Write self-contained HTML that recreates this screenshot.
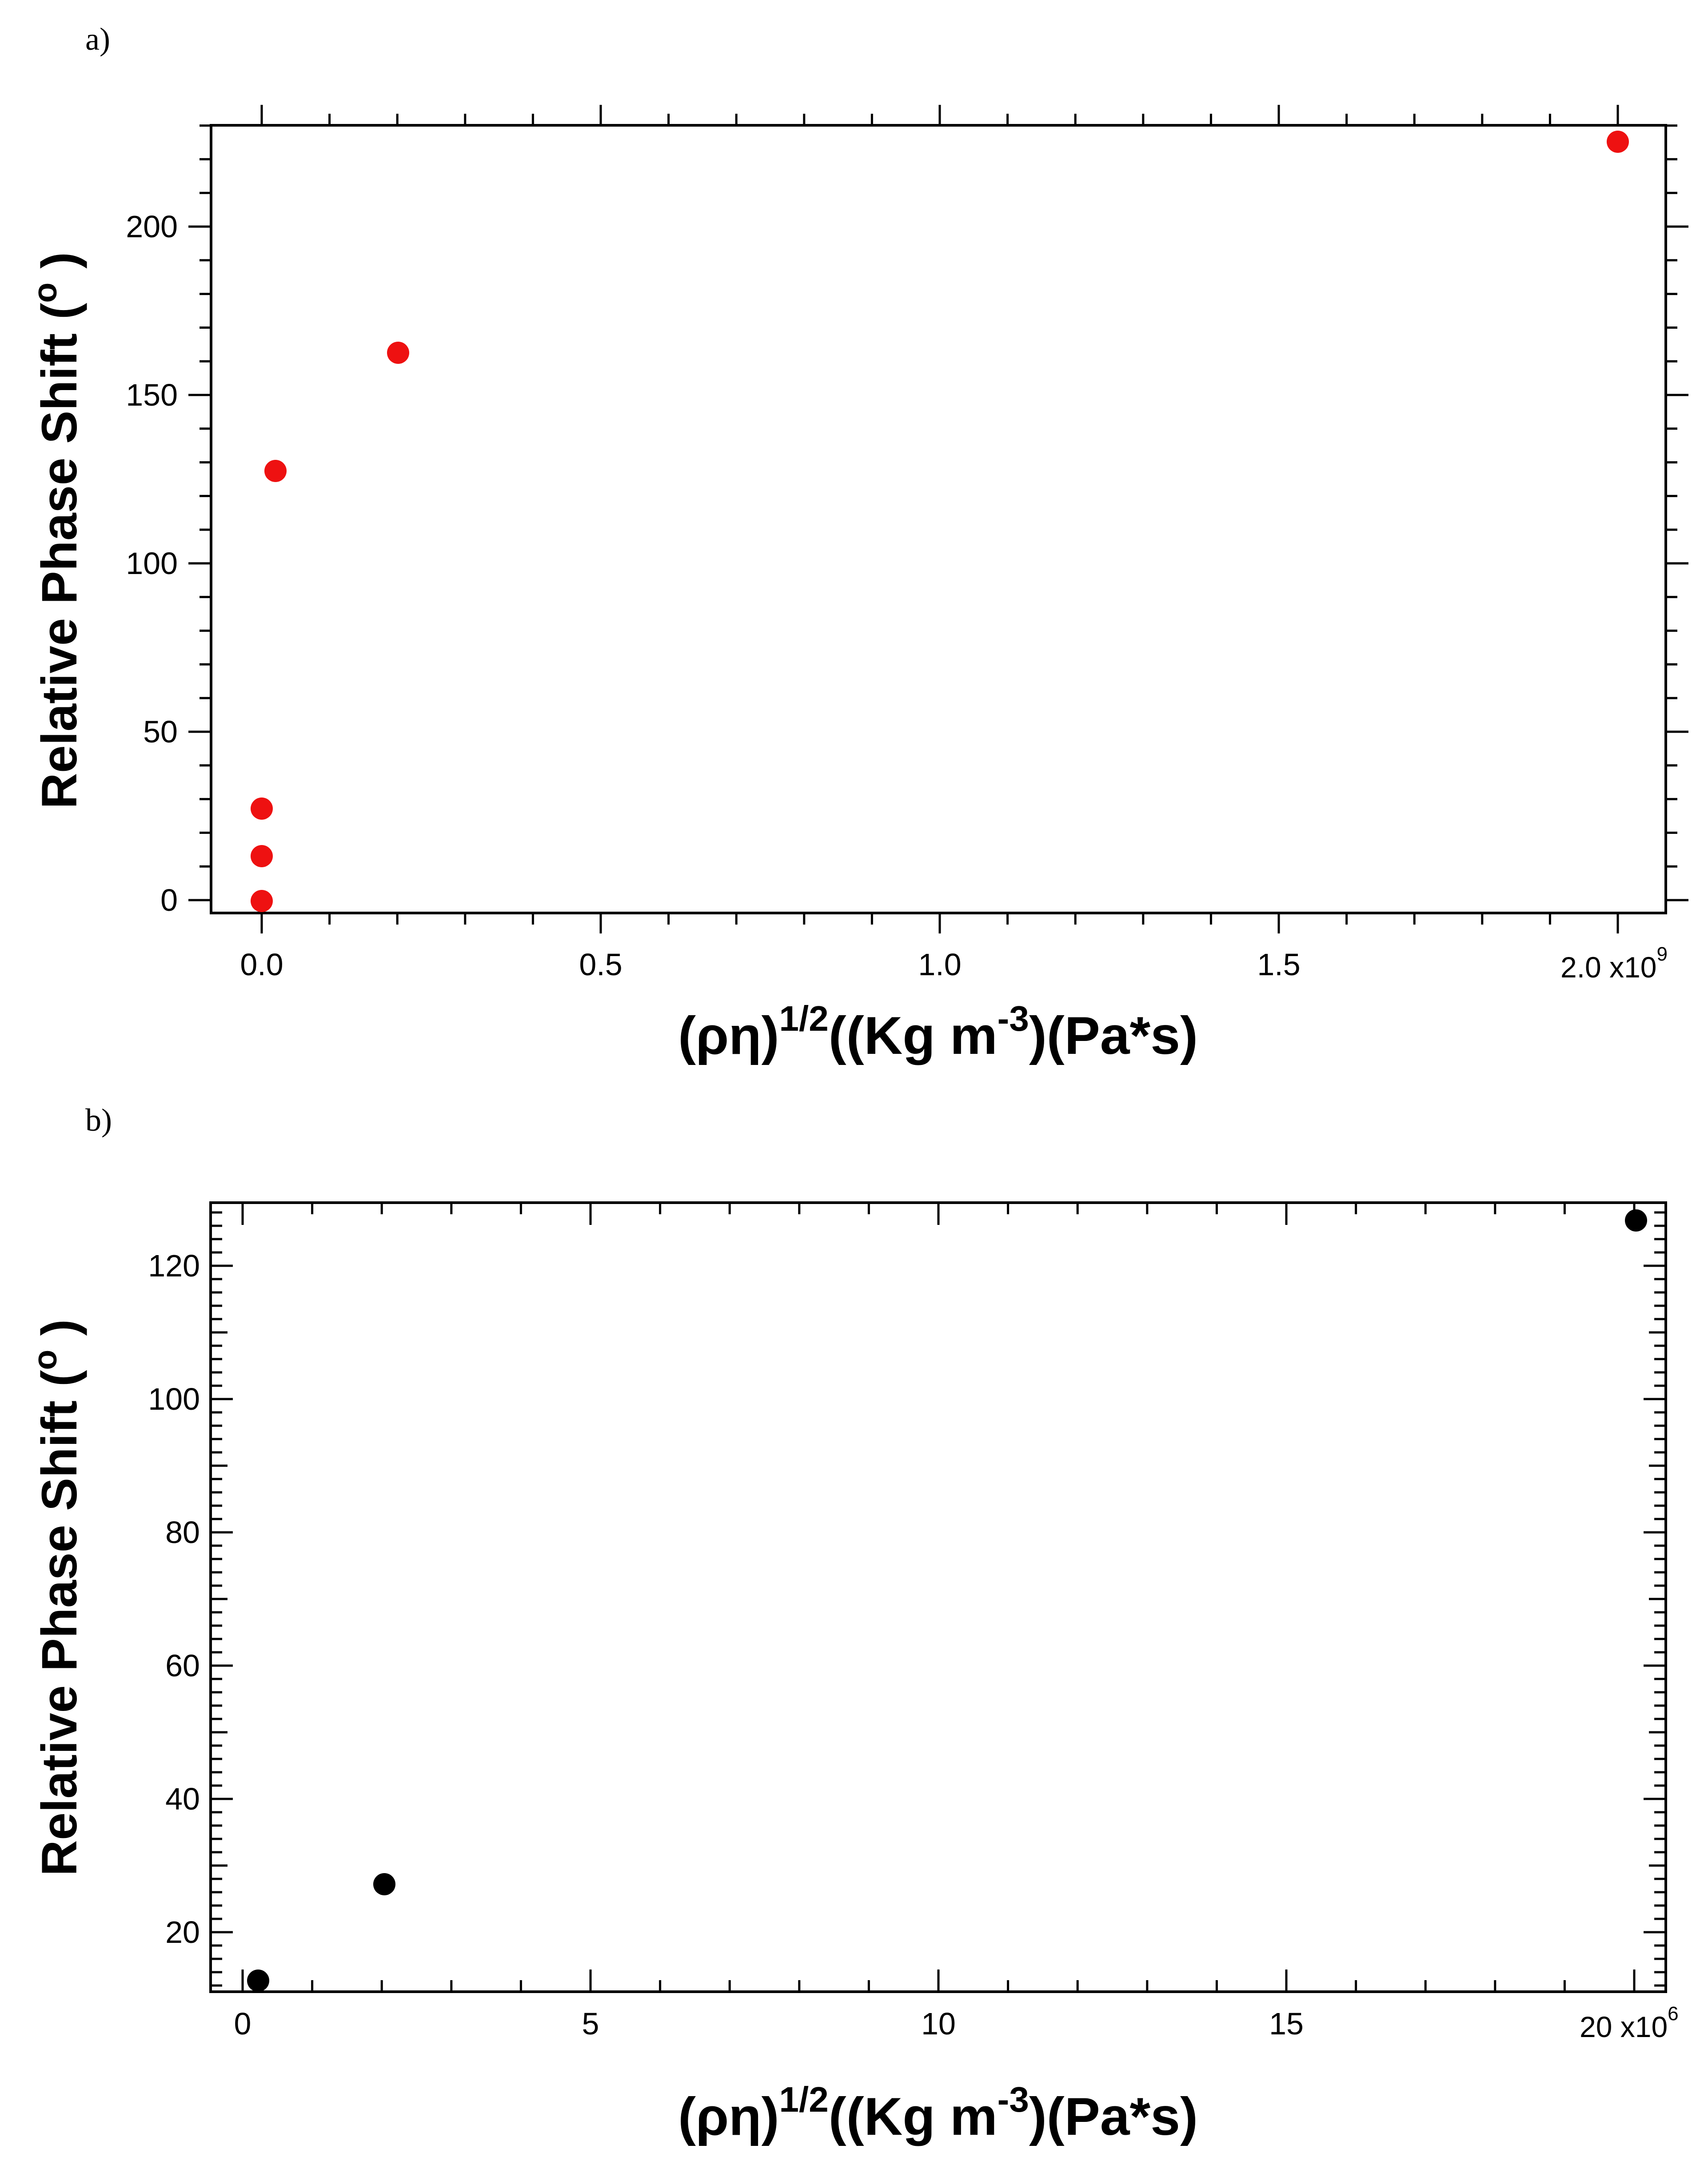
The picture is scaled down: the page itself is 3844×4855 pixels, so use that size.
<!DOCTYPE html>
<html><head><meta charset="utf-8"><style>
html,body{margin:0;padding:0;background:#fff;}
svg{display:block;}
text{font-family:"Liberation Sans",Arial,sans-serif;}
</style></head><body>
<svg id="s" width="3844" height="4855" viewBox="0 0 3844 4855" xmlns="http://www.w3.org/2000/svg">
<rect width="3844" height="4855" fill="#fff"/>
<text x="192" y="112" style="font-family:'Liberation Serif',serif" font-size="72">a)</text>
<text x="192" y="2545" style="font-family:'Liberation Serif',serif" font-size="72">b)</text>

<g id="ticks" stroke="#000" stroke-width="5" fill="none"></g>
<rect x="475" y="282" width="3274" height="1773" fill="none" stroke="#000" stroke-width="6"/>
<rect x="474" y="2707" width="3275" height="1776" fill="none" stroke="#000" stroke-width="6"/>

<g font-size="70" text-anchor="end">
<text x="400" y="534">200</text>
<text x="400" y="913">150</text>
<text x="400" y="1292">100</text>
<text x="400" y="1671">50</text>
<text x="400" y="2050">0</text>
</g>
<g font-size="70" text-anchor="middle">
<text x="589" y="2195">0.0</text>
<text x="1352" y="2195">0.5</text>
<text x="2115" y="2195">1.0</text>
<text x="2878" y="2195">1.5</text>
</g>
<text x="3512" y="2200" font-size="66">2.0 x10<tspan dy="-38" font-size="44">9</tspan></text>

<g font-size="70" text-anchor="end">
<text x="450" y="4373">20</text>
<text x="450" y="4073">40</text>
<text x="450" y="3773">60</text>
<text x="450" y="3473">80</text>
<text x="450" y="3173">100</text>
<text x="450" y="2873">120</text>
</g>
<g font-size="70" text-anchor="middle">
<text x="546" y="4579">0</text>
<text x="1329" y="4579">5</text>
<text x="2112" y="4579">10</text>
<text x="2895" y="4579">15</text>
</g>
<text x="3555" y="4585" font-size="66">20 x10<tspan dy="-38" font-size="44">6</tspan></text>

<text transform="translate(172,1194) rotate(-90)" text-anchor="middle" font-size="112" font-weight="bold">Relative Phase Shift (<tspan dy="-45" font-size="75">o</tspan><tspan dy="45"> )</tspan></text>
<text transform="translate(172,3596) rotate(-90)" text-anchor="middle" font-size="112" font-weight="bold">Relative Phase Shift (<tspan dy="-45" font-size="75">o</tspan><tspan dy="45"> )</tspan></text>
<text x="2111" y="2372" text-anchor="middle" font-size="120" font-weight="bold">(ρη)<tspan dy="-52" font-size="80">1/2</tspan><tspan dy="52">((Kg m</tspan><tspan dy="-52" font-size="80">-3</tspan><tspan dy="52">)(Pa*s)</tspan></text>
<text x="2111" y="4805" text-anchor="middle" font-size="120" font-weight="bold">(ρη)<tspan dy="-52" font-size="80">1/2</tspan><tspan dy="52">((Kg m</tspan><tspan dy="-52" font-size="80">-3</tspan><tspan dy="52">)(Pa*s)</tspan></text>

<g fill="#ee1111">
<circle cx="589" cy="2028" r="25"/>
<circle cx="589" cy="1927" r="25"/>
<circle cx="589" cy="1820" r="25"/>
<circle cx="620" cy="1060" r="25"/>
<circle cx="896" cy="794" r="25"/>
<circle cx="3641" cy="319" r="25"/>
</g>
<g fill="#000">
<circle cx="581" cy="4458" r="25"/>
<circle cx="865" cy="4241" r="25"/>
<circle cx="3682" cy="2747" r="25"/>
</g>
</svg>
<script>
(function(){
var g=document.getElementById('ticks'),d='';
function L(x1,y1,x2,y2){d+='M'+x1+' '+y1+'L'+x2+' '+y2;}
for(var i=0;i<=23;i++){var y=2026-i*75.8;var len=(i%5==0)?51:26;L(475,y,475-len,y);L(3749,y,3749+len,y);}
for(var i=0;i<=20;i++){var x=589+i*152.6;var len=(i%5==0)?46:26;L(x,282,x,282-len);L(x,2055,x,2055+len);}
for(var v=12;v<=128;v+=2){var y=4349-(v-20)*15;var len=(v%20==0)?50:(v%10==0?38:26);L(474,y,474+len,y);L(3749,y,3749-len,y);}
for(var i=0;i<=20;i++){var x=546+i*156.6;var len=(i%5==0)?50:26;L(x,2707,x,2707+len);L(x,4483,x,4483-len);}
var p=document.createElementNS('http://www.w3.org/2000/svg','path');p.setAttribute('d',d);g.appendChild(p);
})();
</script>
</body></html>
